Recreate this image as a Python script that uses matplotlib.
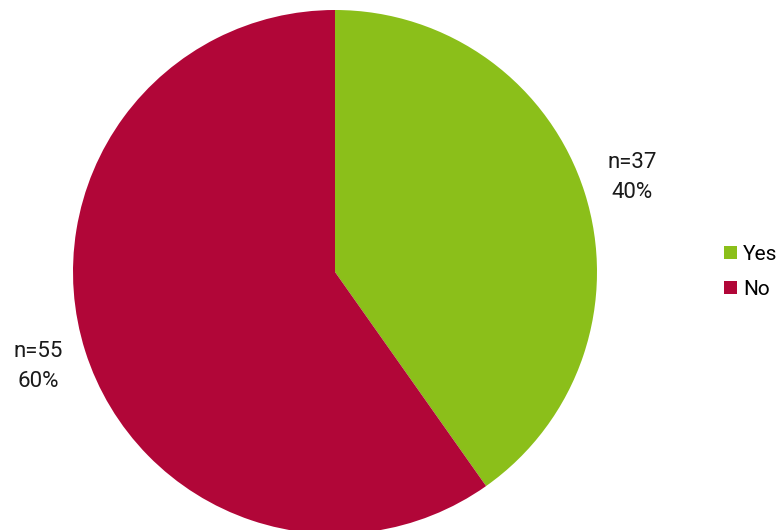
import matplotlib.pyplot as plt

categories = ['Yes', 'No']
counts = [37, 55]
colors = ['#8BBF1A', '#B10638']

total = sum(counts)
labels = [f"n={c}\n{round(c / total * 100)}%" for c in counts]

fig = plt.figure(figsize=(7.82, 5.30), dpi=100)
ax = fig.add_axes([0, 0, 1, 1])

wedges, texts = ax.pie(counts, colors=colors, startangle=90, counterclock=False,
                       center=(335, 258), radius=262, labels=labels,
                       labeldistance=1.19, frame=True,
                       textprops=dict(fontsize=16, family='Roboto', color='#1a1a1a',
                                      linespacing=1.55))
for t in texts:
    t.set_horizontalalignment('center')

ax.set_xlim(0, 782)
ax.set_ylim(0, 530)
ax.set_aspect('equal')
ax.axis('off')

leg = ax.legend(wedges, categories, loc='center left', bbox_to_anchor=(0.926, 0.487),
                frameon=False, handlelength=0.6, handleheight=0.6, handletextpad=0.3,
                labelspacing=0.8, borderaxespad=0, borderpad=0,
                prop=dict(family='Roboto', size=15))

fig.savefig('out.png', dpi=100)
